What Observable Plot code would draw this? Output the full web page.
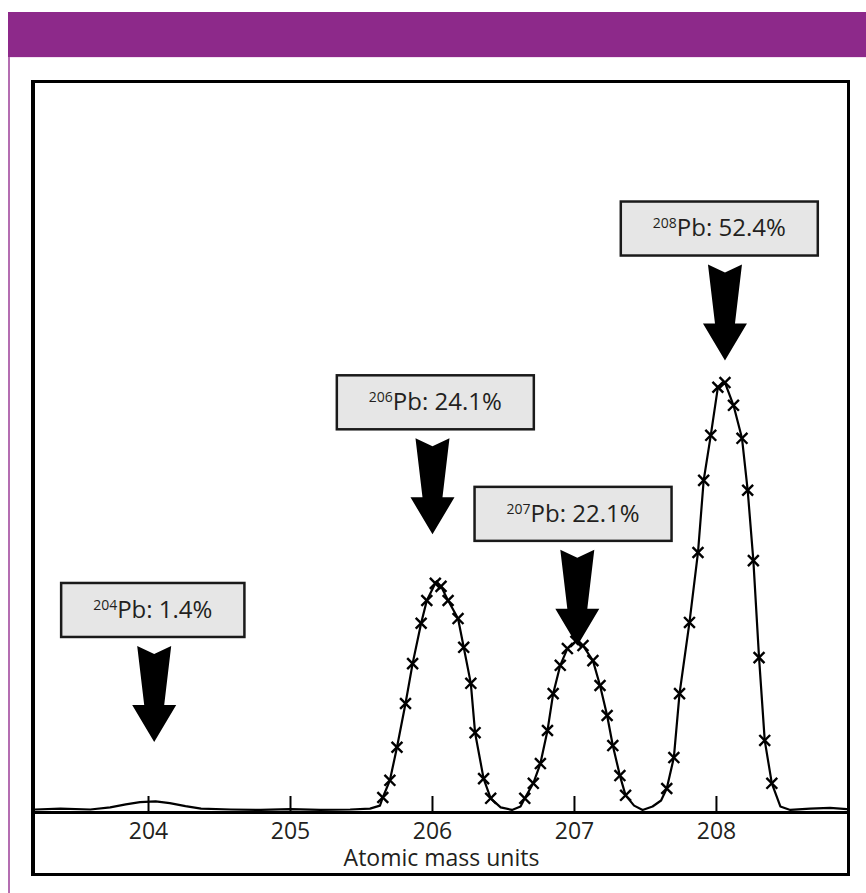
<!DOCTYPE html>
<html>
<head>
<meta charset="utf-8">
<script src="https://cdn.jsdelivr.net/npm/d3@7"></script>
<script src="https://cdn.jsdelivr.net/npm/@observablehq/plot@0.6"></script>
<style>
  html, body { margin: 0; padding: 0; background: #fff; width: 866px; height: 893px; overflow: hidden; }
  #band { position: absolute; left: 8px; top: 12px; width: 858px; height: 45px; background: #8d298a; }
  #bandline { position: absolute; left: 10px; top: 57px; width: 856px; height: 1px; background: #f3e1f2; }
  #rule { position: absolute; left: 8px; top: 57px; width: 2px; height: 836px; background: #b46db1; }
  #frame { position: absolute; left: 31px; top: 80px; width: 819px; height: 796px; box-sizing: border-box; border: 3px solid #000; border-left-width: 4px; background: #fff; overflow: hidden; }
  #frame svg { display: block; width: 812px; height: 790px; }
</style>
</head>
<body>
<div id="band"></div>
<div id="bandline"></div>
<div id="rule"></div>
<div id="frame"></div>
<script>
// Mass spectrum of lead (relative intensity, 208Pb peak ≈ 100)
const massAmu = [203.20, 203.38, 203.59, 203.73, 203.84, 203.94, 204.05, 204.15, 204.26, 204.37,
  204.58, 204.79, 205.00, 205.21, 205.42, 205.56, 205.63, 205.65, 205.70, 205.75,
  205.81, 205.86, 205.92, 205.96, 206.02, 206.06, 206.11, 206.18, 206.22, 206.27,
  206.30, 206.36, 206.41, 206.48, 206.56, 206.62, 206.65, 206.71, 206.76, 206.81,
  206.85, 206.90, 206.95, 207.01, 207.06, 207.13, 207.18, 207.23, 207.27, 207.32,
  207.36, 207.42, 207.48, 207.55, 207.61, 207.65, 207.70, 207.74, 207.81, 207.87,
  207.91, 207.96, 208.01, 208.06, 208.12, 208.18, 208.22, 208.26, 208.30, 208.34,
  208.39, 208.45, 208.52, 208.66, 208.80, 208.92];
const relIntensity = [0.7, 0.9, 0.7, 1.2, 1.9, 2.4, 2.6, 2.2, 1.5, 0.9,
  0.7, 0.6, 0.8, 0.6, 0.7, 0.9, 1.6, 3.5, 7.5, 15.2,
  25.4, 34.7, 44.1, 49.4, 53.4, 52.7, 49.4, 45.2, 38.5, 30.1,
  18.6, 7.9, 3.3, 1.2, 0.6, 1.4, 3.3, 6.8, 11.4, 19.1,
  27.7, 34.3, 38.2, 39.9, 38.9, 35.4, 29.6, 22.6, 15.6, 8.6,
  4.0, 1.6, 0.6, 1.4, 2.8, 5.6, 12.8, 27.7, 44.3, 60.6,
  77.4, 87.9, 99.1, 100.2, 94.9, 87.2, 75.1, 58.7, 36.1, 16.8,
  6.8, 1.4, 0.6, 0.9, 1.1, 0.8];

// Isotope annotations
const isotopes = [204, 206, 207, 208];
const abundance = ["1.4", "24.1", "22.1", "52.4"];
const labelMass = [204.03, 206.02, 206.99, 208.02];
const labelLevel = [47.2, 95.6, 69.6, 136.1];
const arrowMass = [204.04, 206.00, 207.02, 208.06];

// Axis
const tickMasses = [204, 205, 206, 207, 208];
const axisTitle = "Atomic mass units";

const spectrum = massAmu.map((m, i) => ({mass: m, intensity: relIntensity[i]}));
const labels = isotopes.map((iso, i) => ({
  text: `${iso}Pb: ${abundance[i]}%`,
  mass: labelMass[i],
  level: labelLevel[i],
  arrow: arrowMass[i]
}));

// Block arrow with swallow-tail top (pixel units around the anchor point)
const blockArrow = {
  draw(ctx) {
    ctx.moveTo(-17, -48);
    ctx.lineTo(0, -40);
    ctx.lineTo(17, -48);
    ctx.lineTo(10, 11);
    ctx.lineTo(22, 11);
    ctx.lineTo(0, 48);
    ctx.lineTo(-22, 11);
    ctx.lineTo(-10, 11);
    ctx.closePath();
  }
};

const plot = Plot.plot({
  width: 812,
  height: 790,
  marginTop: 0,
  marginRight: 0,
  marginBottom: 61,
  marginLeft: 0,
  style: {fontFamily: "'Open Sans', 'Noto Sans', sans-serif", fontSize: "23px", color: "#231f20", background: "#fff"},
  x: {domain: [203.204, 208.923]},
  y: {domain: [0, 169.9], axis: null},
  marks: [
    Plot.line(spectrum, {x: "mass", y: "intensity", stroke: "#000", strokeWidth: 2.2}),
    Plot.dot(spectrum, {filter: d => d.intensity > 3, x: "mass", y: "intensity", symbol: "times", r: 5, stroke: "#000", strokeWidth: 2.4}),
    Plot.ruleY([0], {stroke: "#000", strokeWidth: 3}),
    Plot.axisX(tickMasses, {
      tickSize: -16, tickPadding: 26, stroke: "#000", strokeWidth: 2,
      tickFormat: d => String(d), fontSize: 23,
      label: axisTitle, labelAnchor: "center", labelOffset: 53, labelArrow: "none"
    }),
    Plot.text(labels, {x: "mass", y: "level", text: "text", fill: "#231f20", fontSize: 24}),
    Plot.dot(labels, {x: "arrow", y: "level", dy: 84, r: 10, symbol: blockArrow, fill: "#000", stroke: "none"})
  ]
});

document.getElementById("frame").append(plot);

// Superscript mass numbers and grey boxes behind the labels
const ns = "http://www.w3.org/2000/svg";
const g = plot.querySelector('g[aria-label="text"]');
if (g) {
  g.querySelectorAll("text").forEach(t => {
    const m = t.textContent.match(/^(\d+)(.*)$/);
    if (!m) return;
    t.textContent = "";
    const sup = document.createElementNS(ns, "tspan");
    sup.setAttribute("font-size", "14");
    sup.setAttribute("dy", "-8");
    sup.textContent = m[1];
    const main = document.createElementNS(ns, "tspan");
    main.setAttribute("dy", "8");
    main.textContent = m[2];
    t.append(sup, main);
    const b = t.getBBox();
    const r = document.createElementNS(ns, "rect");
    r.setAttribute("x", b.x - 32);
    r.setAttribute("width", b.width + 64);
    r.setAttribute("y", -27);
    r.setAttribute("height", 54);
    r.setAttribute("fill", "#e6e6e6");
    r.setAttribute("stroke", "#1a1a1a");
    r.setAttribute("stroke-width", "2.5");
    if (t.getAttribute("transform")) r.setAttribute("transform", t.getAttribute("transform"));
    g.insertBefore(r, t);
  });
}
</script>
</body>
</html>
